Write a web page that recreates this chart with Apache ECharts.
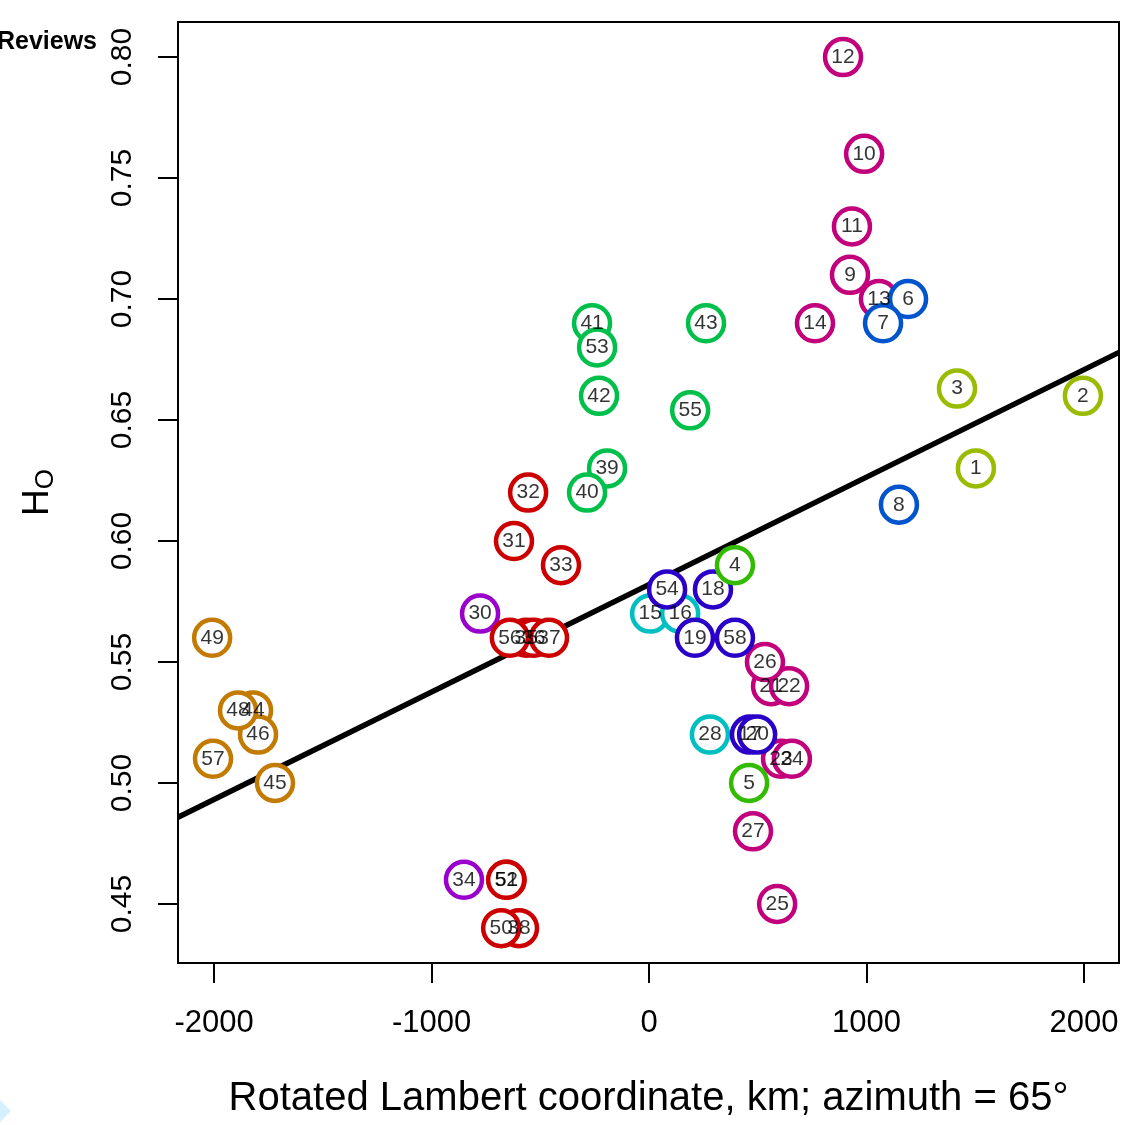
<!DOCTYPE html>
<html>
<head>
<meta charset="utf-8">
<script src="https://cdn.jsdelivr.net/npm/echarts@6/dist/echarts.min.js"></script>
<style>
  html, body { margin: 0; padding: 0; background: #fff; }
  #chart { width: 1139px; height: 1125px; }
</style>
</head>
<body>
<div id="chart"></div>
<script>
/* -------------------------------------------------------------------------- */
/* Data: site id, rotated Lambert coordinate (km), observed heterozygosity     */
var siteIds = [1, 2, 3, 4, 5, 6, 7, 8, 9, 10, 11, 12, 13, 14, 15, 16, 17, 18, 19, 20,
  21, 22, 23, 24, 25, 26, 27, 28, 30, 31, 32, 33, 34, 35, 36, 37, 38, 39, 40,
  41, 42, 43, 44, 45, 46, 48, 49, 50, 51, 52, 53, 54, 55, 56, 57, 58];
var coordKm = [1503, 1995, 1416, 395, 460, 1191, 1076, 1149, 924, 989, 933, 892, 1057, 763, 5, 143, 464, 294, 211, 497,
  561, 644, 607, 657, 589, 533, 478, 280, -777, -621, -556, -405, -851, -565, -530, -460, -598, -193, -285,
  -262, -230, 262, -1821, -1720, -1798, -1890, -2009, -680, -655, -657, -239, 83, 189, -640, -2005, 395];
var hetObs = [0.63, 0.66, 0.663, 0.59, 0.50, 0.70, 0.69, 0.615, 0.71, 0.76, 0.73, 0.80, 0.70, 0.69, 0.57, 0.57, 0.52, 0.58, 0.56, 0.52,
  0.54, 0.54, 0.51, 0.51, 0.45, 0.55, 0.48, 0.52, 0.57, 0.60, 0.62, 0.59, 0.46, 0.56, 0.56, 0.56, 0.44, 0.63, 0.62,
  0.69, 0.66, 0.69, 0.53, 0.50, 0.52, 0.53, 0.56, 0.44, 0.46, 0.46, 0.68, 0.58, 0.654, 0.56, 0.51, 0.56];
var siteGroup = ['yg', 'yg', 'yg', 'lime', 'lime', 'blue', 'blue', 'blue', 'mag', 'mag', 'mag', 'mag', 'mag', 'mag', 'cyan', 'cyan', 'ind', 'ind', 'ind', 'ind',
  'mag', 'mag', 'mag', 'mag', 'mag', 'mag', 'mag', 'cyan', 'pur', 'red', 'red', 'red', 'pur', 'red', 'red', 'red', 'red', 'grn', 'grn',
  'grn', 'grn', 'grn', 'org', 'org', 'org', 'org', 'org', 'red', 'red', 'red', 'grn', 'ind', 'grn', 'red', 'org', 'ind'];

// drawing order of the colour groups (later groups sit on top)
var groupOrder = ['org', 'pur', 'red', 'grn', 'mag', 'cyan', 'ind', 'lime', 'blue', 'yg'];
var groupColor = {
  yg: '#99BB00', lime: '#33BB00', blue: '#0055CC', mag: '#C2007C', cyan: '#00BFC0',
  ind: '#2A00C8', pur: '#9900CC', red: '#CC0000', grn: '#00C04B', org: '#C27A00'
};

var xTicks = [-2000, -1000, 0, 1000, 2000];
var yTicks = [0.45, 0.50, 0.55, 0.60, 0.65, 0.70, 0.75, 0.80];

// fitted regression line
var fitIntercept = 0.582;
var fitSlope = 0.0000444;

var X_MIN = -2166, X_MAX = 2161;
var Y_MIN = 0.4256, Y_MAX = 0.8145;
/* -------------------------------------------------------------------------- */

var chart = echarts.init(document.getElementById('chart'));
var FONT = '"Liberation Sans", Arial, Helvetica, sans-serif';

var pointsOf = function (g) {
  var out = [];
  for (var i = 0; i < siteIds.length; i++) {
    if (siteGroup[i] === g) {
      out.push({ name: String(siteIds[i]), value: [coordKm[i], hetObs[i]] });
    }
  }
  return out;
};

var series = [{
  type: 'line',
  data: [[X_MIN, fitIntercept + fitSlope * X_MIN], [X_MAX, fitIntercept + fitSlope * X_MAX]],
  showSymbol: false,
  symbol: 'none',
  lineStyle: { color: '#000', width: 5.5 },
  silent: true,
  z: 2
}];

groupOrder.forEach(function (g) {
  series.push({
    type: 'scatter',
    data: pointsOf(g),
    symbol: 'circle',
    symbolSize: 36,
    itemStyle: { color: '#fff', borderColor: groupColor[g], borderWidth: 4.5, opacity: 1 },
    z: 3
  });
});

// all numbers drawn after all circles
var allLabels = [];
for (var i = 0; i < siteIds.length; i++) {
  allLabels.push({ name: String(siteIds[i]), value: [coordKm[i], hetObs[i]] });
}
series.push({
  type: 'scatter',
  data: allLabels,
  symbolSize: 0,
  itemStyle: { color: 'transparent' },
  label: {
    show: true,
    position: 'inside',
    formatter: '{b}',
    color: '#000',
    fontSize: 21,
    fontFamily: FONT
  },
  labelLayout: { hideOverlap: false },
  z: 5
});

chart.setOption({
  animation: false,
  backgroundColor: '#fff',
  grid: {
    left: 178, right: 20, top: 22, bottom: 162,
    show: true, borderColor: '#000', borderWidth: 2, backgroundColor: 'transparent'
  },
  xAxis: {
    type: 'value',
    min: X_MIN, max: X_MAX,
    name: 'Rotated Lambert coordinate, km; azimuth = 65°',
    nameLocation: 'middle',
    nameGap: 116,
    nameTextStyle: { fontSize: 40, color: '#000', fontFamily: FONT },
    axisLine: { show: false, onZero: false },
    axisTick: { show: true, inside: false, length: 20, customValues: xTicks, lineStyle: { color: '#000', width: 2 } },
    axisLabel: {
      customValues: xTicks, fontSize: 31, color: '#000', fontFamily: FONT, margin: 45,
      formatter: function (v) { return String(v); }
    },
    splitLine: { show: false }
  },
  yAxis: {
    type: 'value',
    min: Y_MIN, max: Y_MAX,
    name: '{h|H}{o|O}',
    nameLocation: 'middle',
    nameGap: 119,
    nameRotate: 90,
    nameTextStyle: {
      color: '#000', fontFamily: FONT,
      rich: {
        h: { fontSize: 37, color: '#000', fontFamily: FONT },
        o: { fontSize: 26, color: '#000', fontFamily: FONT, padding: [16, 0, 0, 0] }
      }
    },
    axisLine: { show: false, onZero: false },
    axisTick: { show: true, inside: false, length: 20, customValues: yTicks, lineStyle: { color: '#000', width: 2 } },
    axisLabel: {
      customValues: yTicks, rotate: 90, fontSize: 30, color: '#000', fontFamily: FONT, margin: 40,
      formatter: function (v) { return v.toFixed(2); }
    },
    splitLine: { show: false }
  },
  graphic: [{
    type: 'text',
    x: 97, y: 42,
    style: {
      text: 'Reviews', fill: '#000', font: 'bold 25px ' + FONT,
      textAlign: 'right', textVerticalAlign: 'middle'
    }
  }, {
    type: 'polygon',
    shape: { points: [[0, 1100], [11, 1111], [0, 1122]] },
    style: { fill: '#D6EFFC' }
  }],
  series: series
});
</script>
</body>
</html>
